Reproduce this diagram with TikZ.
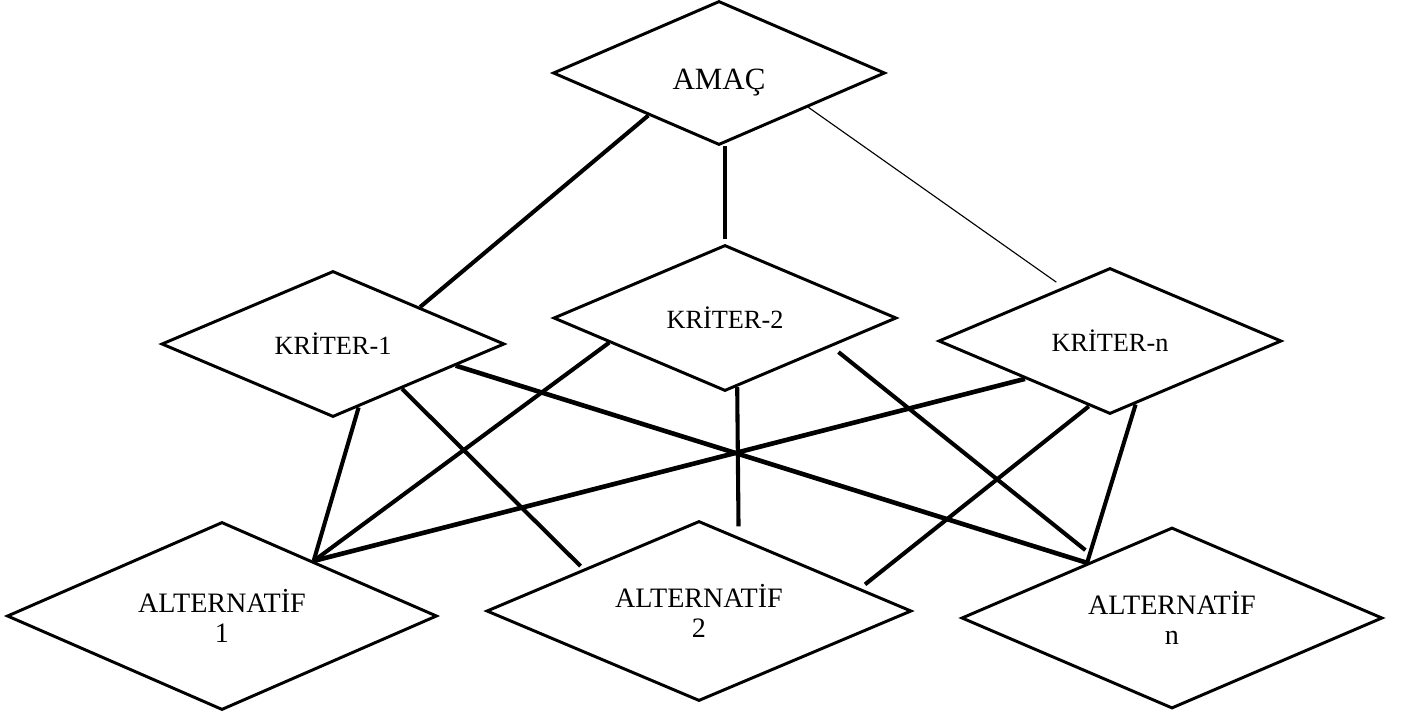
\documentclass[tikz,border=0pt]{standalone}
\usepackage{fontspec}
\setmainfont{Liberation Serif}
\usetikzlibrary{shapes.geometric,positioning}

\begin{document}
\begin{tikzpicture}[on grid,
    crit/.style={diamond, draw, line width=2.1pt, inner sep=0pt, shape aspect=2.3,
      minimum width=8.575cm, minimum height=3.65cm, font=\fontsize{18.7}{21}\selectfont},
    alt/.style={crit, align=center, minimum width=10.6cm, minimum height=4.55cm,
      font=\fontsize{20}{21.5}\selectfont},
    link/.style={line width=2.9pt},
    heavy link/.style={line width=3.3pt},
    thin link/.style={line width=0.8pt}]
   \useasboundingbox (-17.975,-16.1) rectangle (17.15,1.825);
   \node[crit, minimum width=8.3cm, minimum height=3.6cm, text height=0.9cm, text depth=0.05cm,
     font=\fontsize{22}{26}\selectfont] (amac) {AMAÇ};
   \node[crit] (k1) [below left=6.775cm and 9.65cm of amac] {KRİTER-1};
   \node[crit] (k2) [below right=6.125cm and 0.15cm of amac] {KRİTER-2};
   \node[crit] (kn) [below right=6.7cm and 9.775cm of amac] {KRİTER-n};
   \node[alt, minimum width=10.75cm, minimum height=4.7cm] (a1) [below left=6.8cm and 2.775cm of k1] {ALTERNATİF\\1};
   \node[alt, minimum width=10.625cm, minimum height=4.5cm] (a2) [below left=7.325cm and 0.65cm of k2] {ALTERNATİF\\2};
   \node[alt, minimum width=10.525cm, minimum height=4.525cm] (an) [below right=6.925cm and 1.55cm of kn] {ALTERNATİF\\n};
    \path[link]
    (amac.211.6) edge (k1.23.5)
    (k2.north |- amac.south) edge [shorten >=0.125cm] (k2.north)
    (amac.-21.5) edge [thin link, shorten >=0.2cm] (kn.131)
    (k1.-68.8) edge (a1.31.2)
    (k1.-33.7) edge [shorten >=0.1cm] (a2.160.6)
    (k1.-10) edge [heavy link] (an.147.1)
    (k2.192.9) edge (a1.31.2)
    (k2.-80) edge [shorten >=0.25cm] (a2.62.8)
    (k2.-15.5) edge [shorten <=0.22cm, shorten >=0.35cm] (an.142.6)
    (kn.204.3) edge [heavy link] (a1.31.2)
    (kn.252.6) edge [shorten >=0.16cm] (a2.8.7)
    (kn.-68.4) edge (an.147.1);
\end{tikzpicture}
\end{document}
